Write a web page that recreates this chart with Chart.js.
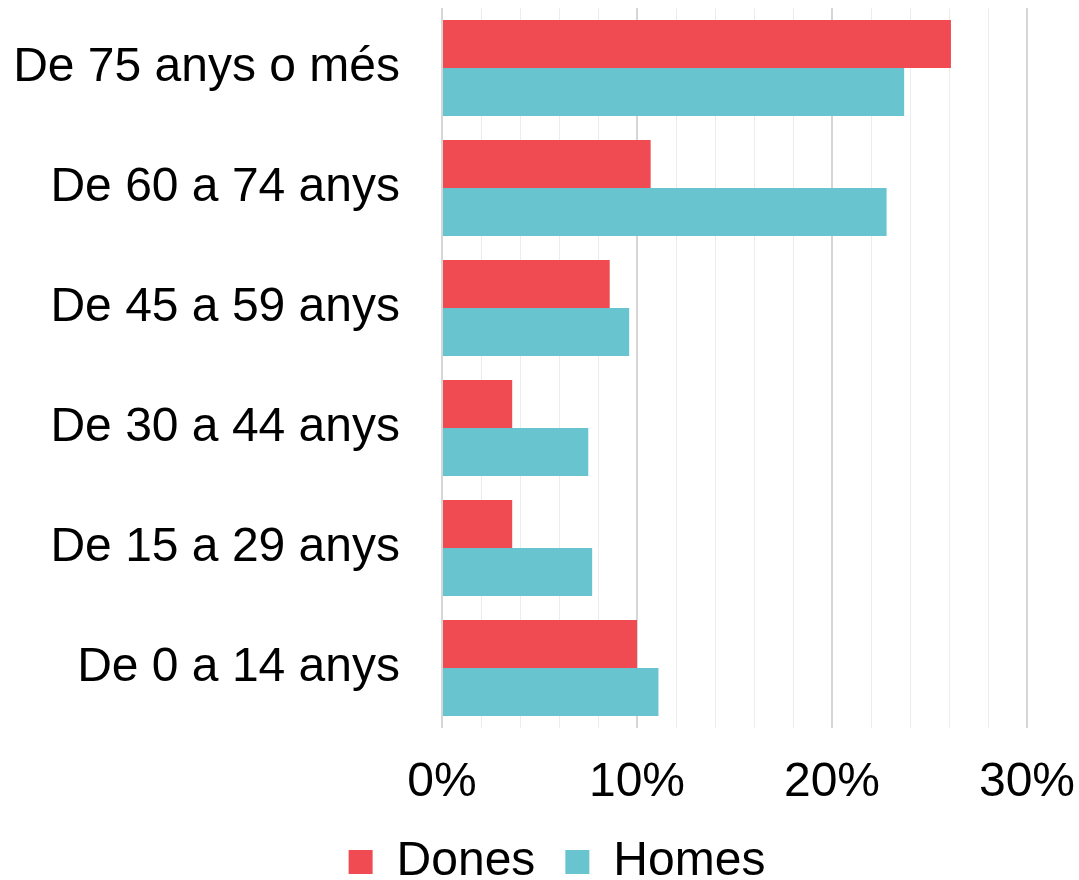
<!DOCTYPE html>
<html>
<head>
<meta charset="utf-8">
<script src="https://cdn.jsdelivr.net/npm/chart.js@4.4.0/dist/chart.umd.min.js"></script>
<style>
  html, body { margin: 0; padding: 0; background: #fff; }
  #wrap { width: 1079px; height: 880px; }
</style>
</head>
<body>
<div id="wrap"><canvas id="chart"></canvas></div>
<script>
const ageGroups = ["De 75 anys o més", "De 60 a 74 anys", "De 45 a 59 anys", "De 30 a 44 anys", "De 15 a 29 anys", "De 0 a 14 anys"];
const dones = [26.1, 10.7, 8.6, 3.6, 3.6, 10.0];
const homes = [23.7, 22.8, 9.6, 7.5, 7.7, 11.1];
const xMin = 0;
const xMax = 30;
const xStep = 2;      // minor gridlines
const xLabelEvery = 10;

const font = "'Liberation Sans', Arial, sans-serif";

// legend sits a little right of centre, so the right padding is negative
// and the x scale keeps the plot edge where it belongs
new Chart(document.getElementById("chart"), {
  type: "bar",
  data: {
    labels: ageGroups,
    datasets: [
      { label: "Dones", data: dones, backgroundColor: "#f04a52" },
      { label: "Homes", data: homes, backgroundColor: "#68c4ce" }
    ]
  },
  options: {
    indexAxis: "y",
    responsive: true,
    maintainAspectRatio: false,
    animation: false,
    categoryPercentage: 0.8,
    barPercentage: 1,
    layout: { padding: { top: 8, right: -35, left: 0, bottom: -16 } },
    scales: {
      x: {
        min: xMin,
        max: xMax,
        border: { display: false },
        grid: {
          drawTicks: false,
          color: ctx => (ctx.tick && ctx.tick.value % xLabelEvery === 0) ? "#d6d6d6" : "#ececec",
          lineWidth: ctx => (ctx.tick && ctx.tick.value % xLabelEvery === 0) ? 2 : 1
        },
        ticks: {
          stepSize: xStep,
          autoSkip: false,
          maxRotation: 0,
          padding: 26,
          color: "#000",
          font: { family: font, size: 48 },
          callback: v => v % xLabelEvery === 0 ? v + "%" : ""
        },
        afterFit: s => {
          s.height = 80;
          s.paddingLeft = 0;
          s.paddingRight = 52;
        }
      },
      y: {
        border: { display: false },
        grid: { display: false, drawTicks: false },
        ticks: {
          padding: 42,
          color: "#000",
          font: { family: font, size: 48 }
        },
        afterFit: s => {
          s.width = 442;
          s.paddingTop = 0;
          s.paddingBottom = 0;
        }
      }
    },
    plugins: {
      legend: {
        position: "bottom",
        labels: {
          boxWidth: 24,
          boxHeight: 24,
          padding: 30,
          color: "#000",
          font: { family: font, size: 48 }
        }
      },
      tooltip: { enabled: false }
    }
  }
});
</script>
</body>
</html>
